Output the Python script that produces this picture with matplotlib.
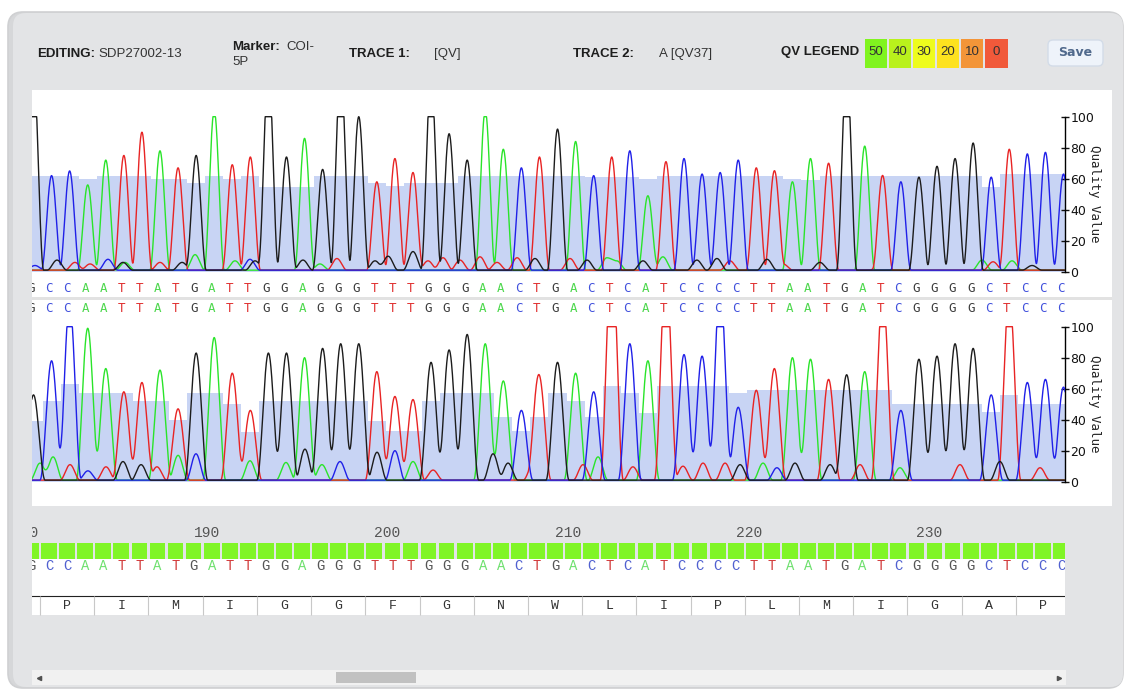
import numpy as np
import matplotlib.pyplot as plt
from matplotlib.patches import FancyBboxPatch, Rectangle

W, H = 1126, 691

# ---- data ----
bases = list("GCCAATTATGATTGGAGGGTTTGGGAACTGACTCATCCCCTTAATGATCGGGGCTCCC")
aminos = list("PIMIGGFGNWLIPLMIGAP")
first_number = 181          # sequence position of the first visible base
ruler_labels = [180, 190, 200, 210, 220, 230]

# peak heights (quality-value scale, >100 means clipped flat top)
trace1_peaks = [129, 61, 64, 55, 71, 74, 89, 77, 66, 74,
                103, 68, 73, 130, 73, 85, 65, 130, 99, 57,
                72, 63, 125, 88, 71, 103, 78, 66, 73, 91,
                83, 61, 73, 77, 48, 70, 72, 62, 63, 71,
                66, 64, 57, 72, 69, 130, 80, 57, 57, 60,
                67, 72, 82, 60, 78, 75, 76, 62]
trace1_qv = [62, 62, 62, 60, 62, 62, 62, 60, 60, 57,
             62, 60, 62, 54.5, 54.5, 54.5, 62, 62, 62, 57,
             55, 57, 57, 57, 62, 62, 62, 62, 62, 62,
             62, 61, 61, 61, 60, 62, 62, 62, 62, 62,
             62, 62, 60, 59, 62, 62, 62, 62, 62, 62,
             62, 62, 62, 54.5, 63, 63, 63, 63]

trace2_peaks = [55, 77, 114, 98, 72, 57, 63, 71, 46, 82,
                92, 69, 45, 82, 82, 79, 85, 88, 88, 70,
                54, 52, 76, 84, 94, 88, 64, 45, 65, 76,
                69, 57, 150, 88, 77, 135, 81, 80, 125, 47,
                58, 72, 79, 78, 65, 68, 70, 120, 45, 78,
                80, 88, 85, 55, 120, 63, 65, 60]
trace2_qv = [39, 52, 63, 57, 57, 57, 52, 52, 40, 57,
             57, 50, 32, 52, 52, 52, 52, 52, 52, 39,
             33, 33, 52, 57, 57, 57, 42, 33, 42, 57,
             52, 42, 62, 57, 44.5, 62, 62, 62, 62, 57,
             59, 59, 59, 59, 59, 59, 59, 59, 50, 50,
             50, 50, 50, 45, 56, 50, 50, 50]

# small secondary bumps: (position in bases, channel, height)
trace1_minor = [(0.22, 'C', 3), (1.44, 'G', 6.5), (2.43, 'T', 5), (3.27, 'T', 4),
                (4.26, 'C', 7), (5.09, 'G', 5), (5.2, 'A', 5), (7.14, 'T', 5),
                (8.36, 'G', 5), (9.08, 'A', 10), (11.29, 'A', 6), (12.12, 'C', 7),
                (12.4, 'G', 6), (15.05, 'G', 6.5), (15.99, 'A', 4), (16.93, 'T', 7.5),
                (19.04, 'G', 6), (19.76, 'G', 9), (21.14, 'G', 12), (21.97, 'T', 6),
                (22.8, 'T', 8), (23.74, 'T', 6.5), (24.85, 'T', 8.6), (25.79, 'T', 5),
                (26.9, 'T', 8), (27.89, 'G', 7.5), (29.83, 'T', 7.5), (30.77, 'G', 6.5),
                (31.87, 'A', 8), (32.42, 'A', 6), (33.87, 'G', 6), (34.97, 'A', 8.6),
                (36.85, 'G', 6.5), (37.96, 'G', 7.5), (38.68, 'T', 6), (40.73, 'G', 7),
                (41.62, 'T', 4), (43.66, 'G', 5), (46.98, 'T', 5), (52.63, 'A', 6.5),
                (53.24, 'T', 5.4), (54.29, 'A', 6), (55.4, 'G', 3)]
trace2_minor = [(0.5, 'A', 11), (1.22, 'A', 15), (2.16, 'T', 10), (3.15, 'C', 6),
                (4.15, 'T', 8.6), (5.09, 'G', 12), (6.09, 'G', 10), (6.97, 'T', 8.6),
                (8.14, 'A', 16), (9.13, 'C', 17), (12.12, 'A', 12.5), (14.11, 'A', 11.4),
                (15.16, 'G', 20), (16.1, 'A', 10), (17.1, 'C', 12), (19.15, 'G', 18),
                (20.14, 'C', 19), (21.14, 'A', 12), (22.25, 'T', 6.5), (25.57, 'G', 17),
                (26.4, 'G', 11), (27.78, 'T', 10), (30.55, 'T', 10), (31.38, 'A', 15),
                (33.31, 'T', 8.6), (36.08, 'T', 9), (37.19, 'T', 11), (38.41, 'T', 11),
                (39.24, 'G', 10), (40.51, 'A', 11), (41.28, 'C', 8), (42.28, 'G', 11),
                (44.22, 'G', 10), (45.88, 'T', 10), (48.09, 'A', 8), (51.41, 'T', 10),
                (53.62, 'G', 12), (55.84, 'T', 8)]

qv_levels = [50, 40, 30, 20, 10, 0]
qv_colors = ['#80f41f', '#b9f11c', '#eefc1d', '#fde21f', '#f39538', '#f1593a']

trace_colors = {'A': '#2ae42a', 'C': '#2020e8', 'G': '#1c1c1c', 'T': '#e82424'}
letter_colors = {'A': '#4fd84f', 'C': '#4050dc', 'G': '#3a3a3a', 'T': '#e03030'}
ruler_colors = {'A': '#6ee06e', 'C': '#5060d0', 'G': '#555555', 'T': '#d23a3a'}

# ---- layout (pixels) ----
X_LEFT, X_RIGHT = 32, 1065
BASE0, STEP = 31.0, 18.07
XLIM = ((X_LEFT - BASE0) / STEP, (X_RIGHT - BASE0) / STEP)
SHIFT = 2.5 / STEP
PPV = 1.55  # pixels per quality unit

fig = plt.figure(figsize=(W / 100, H / 100), dpi=100)
fig.patch.set_facecolor('white')


def axes_px(x0, y0, x1, y1):
    return fig.add_axes([x0 / W, 1 - y1 / H, (x1 - x0) / W, (y1 - y0) / H])


bg = axes_px(0, 0, W, H)
bg.set_xlim(0, W)
bg.set_ylim(H, 0)
bg.axis('off')

# outer gray panel, with a soft darker left edge
bg.add_patch(FancyBboxPatch((8, 12), W - 11, H - 15, boxstyle='round,pad=0,rounding_size=15',
                            fc='#d6d7d9', ec='#cfd0d2', lw=1.2))
bg.add_patch(FancyBboxPatch((13, 13), W - 16, H - 17, boxstyle='round,pad=0,rounding_size=13',
                            fc='#e3e4e6', ec='none'))
# white trace area and ruler area
bg.add_patch(Rectangle((32, 90), 1080, 416, fc='white', ec='none'))
bg.add_patch(Rectangle((32, 297), 1080, 3, fc='#e2e2e2', ec='none'))
bg.add_patch(Rectangle((32, 559), X_RIGHT - 32, 56, fc='white', ec='none'))

# header
hfont = dict(family=['Liberation Sans', 'DejaVu Sans'], fontsize=9.5, va='center')
bg.text(37, 54, 'EDITING:', fontweight='bold', color='#1e1e1e', **hfont)
bg.text(98, 54, 'SDP27002-13', color='#333333', **hfont)
bg.text(232, 47, 'Marker:', fontweight='bold', color='#1e1e1e', **hfont)
bg.text(286, 47, 'COI-', color='#333333', **hfont)
bg.text(232, 62, '5P', color='#333333', **hfont)
bg.text(349, 54, 'TRACE 1:', fontweight='bold', color='#1e1e1e', **hfont)
bg.text(434, 54, '[QV]', color='#333333', **hfont)
bg.text(573, 54, 'TRACE 2:', fontweight='bold', color='#1e1e1e', **hfont)
bg.text(659, 54, 'A [QV37]', color='#333333', **hfont)
bg.text(781, 52, 'QV LEGEND', fontweight='bold', color='#1e1e1e', **hfont)

box_x = 865
for lvl, col in zip(qv_levels, qv_colors):
    bw = 22 if lvl else 23
    bg.add_patch(Rectangle((box_x, 39), bw, 29, fc=col, ec='none'))
    bg.text(box_x + bw / 2, 52, str(lvl), ha='center', va='center', color='#333333',
            family=['Liberation Sans', 'DejaVu Sans'], fontsize=9.5)
    box_x += bw + 2

bg.add_patch(FancyBboxPatch((1048, 40), 55, 26, boxstyle='round,pad=0,rounding_size=5',
                            fc='#eef3fa', ec='#d3dce8', lw=1))
bg.text(1075, 52, 'Save', ha='center', va='center', color='#50698c', fontsize=9,
        family=['DejaVu Sans'], fontweight='bold')

# scrollbar
bg.add_patch(Rectangle((32, 670), 1034, 15, fc='#f1f1f1', ec='none'))
bg.add_patch(Rectangle((336, 672), 80, 11, fc='#c1c1c1', ec='none'))
bg.plot([39], [677.5], marker='<', ms=3, color='#505050')
bg.plot([1059], [677.5], marker='>', ms=3, color='#505050')


def peak_curve(x, centers, heights, half):
    y = np.zeros_like(x)
    for c, h in zip(centers, heights):
        d = np.abs(x - c)
        m = d < half
        y[m] += h * np.cos(np.pi * d[m] / (2 * half)) ** 2
    return y


def draw_trace(y_zero, peaks, qv, minor, half):
    lo, hi = -3, 103
    ax = axes_px(X_LEFT, y_zero - hi * PPV, X_RIGHT, y_zero - lo * PPV)
    ax.set_xlim(*XLIM)
    ax.set_ylim(lo, hi)
    ax.patch.set_visible(False)
    idx = np.arange(len(bases))
    ax.bar(idx + SHIFT, qv, width=1.0, color='#c8d4f4', lw=0, zorder=1)
    x = np.linspace(-1.5, len(bases) + 0.5, 5000)
    for ch in ['A', 'T', 'C', 'G']:
        cen = [i + SHIFT for i in idx if bases[i] == ch]
        hts = [peaks[i] for i in idx if bases[i] == ch]
        y = peak_curve(x, cen, hts, half)
        mc = [p for p, c, h in minor if c == ch]
        mh = [h for p, c, h in minor if c == ch]
        y += peak_curve(x, mc, mh, 0.55)
        y = np.minimum(y + 1.0, 100)
        ax.plot(x, y, color=trace_colors[ch], lw=1.0, zorder=3)
    for s in ['top', 'left', 'bottom']:
        ax.spines[s].set_visible(False)
    ax.spines['right'].set_bounds(0, 100)
    ax.spines['right'].set_linewidth(1.0)
    ax.yaxis.tick_right()
    ax.set_xticks([])
    ax.set_yticks([0, 20, 40, 60, 80, 100])
    ax.tick_params(axis='y', direction='inout', length=6, width=1, labelsize=9,
                   pad=1, colors='#111111')
    ax.set_ylabel('Quality Value', rotation=270, family=['DejaVu Sans Mono'],
                  fontsize=9, color='#222222', va='center', ha='center')
    ax.yaxis.set_label_position('right')
    ax.yaxis.set_label_coords(1.0 + 36 / (X_RIGHT - X_LEFT), (50 - lo) / (hi - lo))
    return ax


draw_trace(271.7, trace1_peaks, trace1_qv, trace1_minor, 0.56)
draw_trace(481.7, trace2_peaks, trace2_qv, trace2_minor, 0.64)

# sequence rows, ruler and translation
ax_r = axes_px(X_LEFT, 276, X_RIGHT, 620)
ax_r.set_xlim(*XLIM)
ax_r.set_ylim(620, 276)
ax_r.axis('off')
ax_r.patch.set_visible(False)

for i, b in enumerate(bases):
    for yy in (288, 309):
        ax_r.text(i, yy, b, ha='center', va='center', color=letter_colors[b],
                  family=['DejaVu Sans Mono'], fontsize=9, clip_on=True)
    ax_r.text(i, 566, b, ha='center', va='center', color=ruler_colors[b],
              family=['Liberation Mono'], fontsize=10, clip_on=True)

ax_r.bar(np.arange(len(bases)), 16, bottom=543, width=0.87, color='#80f526', lw=0,
         antialiased=False)

for n in ruler_labels:
    ax_r.text(n - first_number, 533, str(n), ha='left', va='center', color='#555555',
              family=['Liberation Mono'], fontsize=10.5, clip_on=True)

ax_r.plot(XLIM, [596, 596], color='#222222', lw=0.8)
codon_edges = np.arange(len(aminos)) * 3 + 0.5
ax_r.vlines(codon_edges, 596, 615, color='#c8c8c8', lw=0.8)
for k, a in enumerate(aminos):
    ax_r.text(3 * k + 2, 606, a, ha='center', va='center', color='#333333',
              family=['Liberation Mono'], fontsize=9.5, clip_on=True)

fig.savefig('out.png', dpi=100)
